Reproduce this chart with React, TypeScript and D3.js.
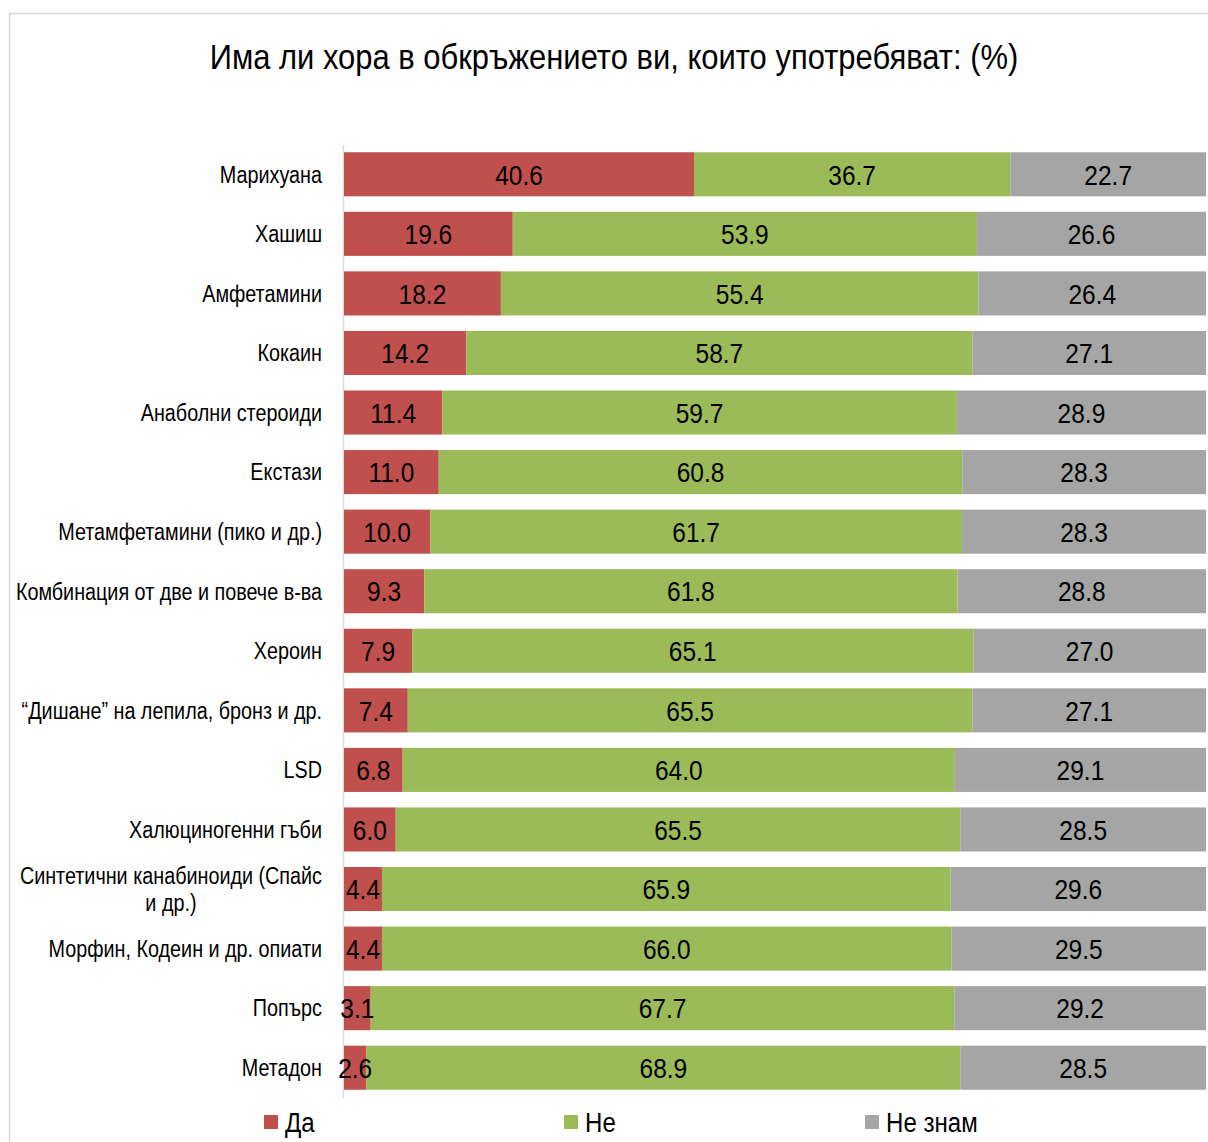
import React, { useEffect, useRef } from "react";
import * as d3 from "d3";

const categories = [
  "Марихуана",
  "Хашиш",
  "Амфетамини",
  "Кокаин",
  "Анаболни стероиди",
  "Екстази",
  "Метамфетамини (пико и др.)",
  "Комбинация от две и повече в-ва",
  "Хероин",
  "“Дишане” на лепила, бронз и др.",
  "LSD",
  "Халюциногенни гъби",
  "Синтетични канабиноиди (Спайс|и др.)",
  "Морфин, Кодеин и др. опиати",
  "Попърс",
  "Метадон",
];
const yes = [40.6, 19.6, 18.2, 14.2, 11.4, 11.0, 10.0, 9.3, 7.9, 7.4, 6.8, 6.0, 4.4, 4.4, 3.1, 2.6];
const no = [36.7, 53.9, 55.4, 58.7, 59.7, 60.8, 61.7, 61.8, 65.1, 65.5, 64.0, 65.5, 65.9, 66.0, 67.7, 68.9];
const dontKnow = [22.7, 26.6, 26.4, 27.1, 28.9, 28.3, 28.3, 28.8, 27.0, 27.1, 29.1, 28.5, 29.6, 29.5, 29.2, 28.5];
const seriesNames = ["Да", "Не", "Не знам"];
const colors = ["#C0504D", "#9BBB59", "#A5A5A5"];
const title = "Има ли хора в обкръжението ви, които употребяват: (%)";

const W = 1208;
const H = 1142;
const FONT = "'Liberation Sans', Arial, sans-serif";
const SX = 0.86;

function addText(
  parent: d3.Selection<any, unknown, null, undefined>,
  x: number,
  y: number,
  txt: string,
  size: number,
  anchor: string
) {
  return parent
    .append("text")
    .attr("transform", `translate(${x},${y}) scale(${SX},1)`)
    .attr("x", 0)
    .attr("y", 0)
    .attr("dy", "0.36em")
    .attr("text-anchor", anchor)
    .attr("font-family", FONT)
    .attr("font-size", size)
    .attr("fill", "#000")
    .text(txt);
}

export default function App() {
  const ref = useRef<SVGSVGElement>(null);
  useEffect(() => {
    const svg = d3.select(ref.current);
    svg.selectAll("*").remove();

    const rows = categories.map((c, i) => ({ cat: c, s0: yes[i], s1: no[i], s2: dontKnow[i] }));
    const stack = d3.stack<any>().keys(["s0", "s1", "s2"]).offset(d3.stackOffsetExpand);
    const stacked = stack(rows);

    const x = d3.scaleLinear().domain([0, 1]).range([344, 1206]);
    const y = d3.scaleBand().domain(categories).range([144.5, 1097.5]).paddingInner(0.26).paddingOuter(0.13);

    // frame
    svg.append("rect").attr("x", 9.5).attr("y", 13.5).attr("width", 1300).attr("height", 1300)
      .attr("fill", "white").attr("stroke", "#D9D9D9").attr("stroke-width", 1.5);

    addText(svg as any, 614, 56, title, 36, "middle");

    // axis line
    const ax = d3.axisLeft(y).tickSize(0).tickFormat(() => "");
    const axG = svg.append("g").attr("transform", "translate(343,0)").call(ax);
    axG.select(".domain").attr("stroke", "#D9D9D9").attr("stroke-width", 1.5);

    const vals = [yes, no, dontKnow];
    const barsG = svg.append("g");
    const labelsG = svg.append("g");
    stacked.forEach((layer, si) => {
      layer.forEach((d, i) => {
        const cat = categories[i];
        barsG.append("rect").attr("x", x(d[0])).attr("y", y(cat)!).attr("width", x(d[1]) - x(d[0]))
          .attr("height", y.bandwidth()).attr("fill", colors[si]);
        addText(labelsG as any, (x(d[0]) + x(d[1])) / 2, y(cat)! + y.bandwidth() / 2, vals[si][i].toFixed(1), 28.5, "middle");
      });
    });

    // category labels
    categories.forEach((c) => {
      const lines = c.split("|");
      const cy = y(c)! + y.bandwidth() / 2;
      if (lines.length === 1) {
        addText(svg as any, 322, cy, c, 23, "end");
      } else {
        const t1 = addText(svg as any, 322, cy - 13, lines[0], 23, "end");
        const w = (t1.node() as SVGTextElement).getComputedTextLength() * SX;
        addText(svg as any, 322 - w / 2, cy + 14, lines[1], 23, "middle");
      }
    });

    // legend
    const legX = [264, 564, 865];
    seriesNames.forEach((n, i) => {
      svg.append("rect").attr("x", legX[i]).attr("y", 1115).attr("width", 14).attr("height", 14).attr("fill", colors[i]);
      addText(svg as any, legX[i] + 21, 1122, n, 28, "start");
    });
  }, []);
  return (
    <svg ref={ref} width={W} height={H} style={{ position: "absolute", left: 0, top: 0, background: "white" }} />
  );
}
